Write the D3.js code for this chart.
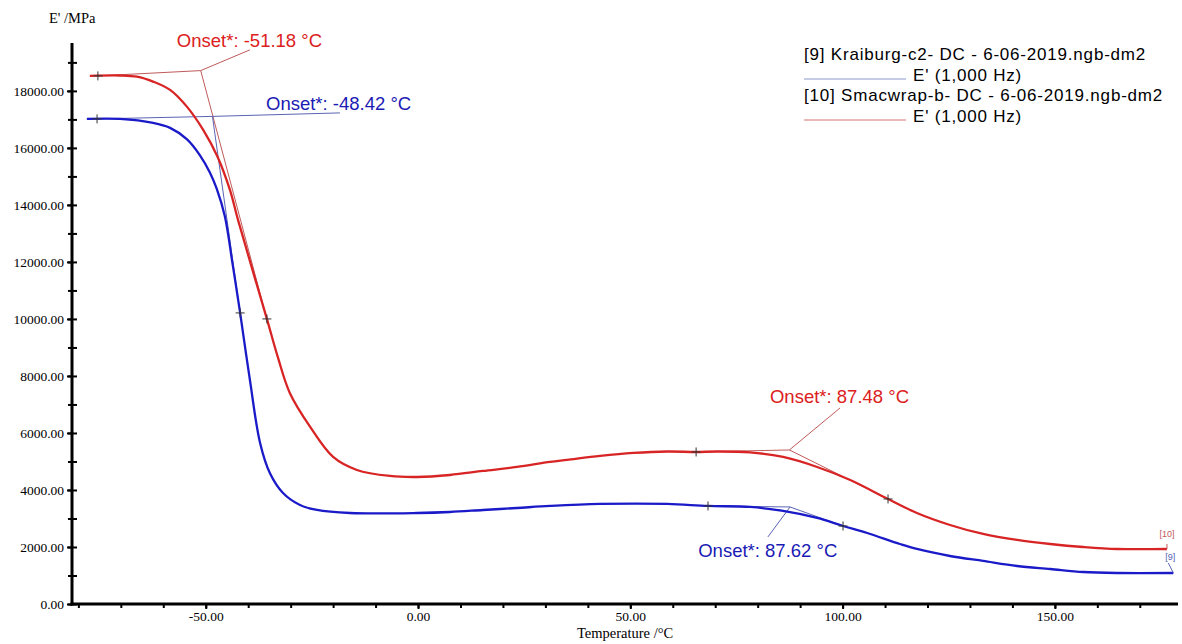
<!DOCTYPE html>
<html>
<head>
<meta charset="utf-8">
<script src="https://cdn.jsdelivr.net/npm/d3@7"></script>
<style>
  html, body { margin: 0; padding: 0; background: #fff; }
  svg { display: block; }
  .serif { font-family: "Liberation Serif", "Times New Roman", serif; }
  .sans { font-family: "Liberation Sans", Arial, sans-serif; }
</style>
</head>
<body>
<svg id="chart" width="1182" height="644"></svg>
<script>
// Storage modulus E' (MPa) vs temperature (°C), 1 Hz DMA sweeps

// [9] Kraiburg-c2 (blue)
const kraiburgT = [-78.0, -70.2, -62.4, -58.4, -54.4, -51.4, -49.0, -47.4, -45.5, -43.7, -41.9, -39.6, -37.2, -34.9, -31.8, -27.8, -23.8, -16.0, -0.2, 7.5, 15.3, 23.3, 31.1, 42.9, 58.7, 68.3, 78.2, 86.0, 94.0, 100.1, 105.8, 113.5, 117.5, 125.3, 133.1, 141.1, 148.9, 156.7, 164.7, 177.9];
const kraiburgE = [17018, 17018, 16877, 16702, 16300, 15750, 15130, 14560, 13600, 11950, 10211, 7860, 5649, 4596, 3895, 3474, 3298, 3193, 3193, 3228, 3298, 3368, 3439, 3509, 3509, 3439, 3404, 3263, 3018, 2737, 2491, 2105, 1930, 1684, 1509, 1333, 1228, 1123, 1088, 1088];

// [10] Smacwrap-b (red)
const smacwrapT = [-77.3, -70.2, -66.2, -62.4, -58.4, -54.4, -50.6, -47.2, -44.3, -42.4, -35.6, -33.0, -30.2, -25.4, -20.0, -14.4, -6.6, -0.2, 7.5, 15.3, 23.3, 31.1, 35.1, 42.9, 50.7, 58.7, 65.5, 70.4, 78.2, 86.0, 94.0, 101.8, 110.7, 117.5, 125.3, 133.1, 141.1, 148.9, 156.7, 164.7, 176.4];
const smacwrapE = [18526, 18540, 18500, 18326, 18035, 17439, 16632, 15684, 14526, 13474, 10000, 8650, 7404, 6211, 5158, 4702, 4491, 4456, 4526, 4667, 4807, 4982, 5053, 5193, 5298, 5350, 5333, 5350, 5320, 5158, 4807, 4351, 3684, 3193, 2772, 2456, 2246, 2105, 2000, 1930, 1930];

// "+" evaluation markers (baseline, inflection) per curve
const kraiburgMarksT = [-75.6, -41.9, 68.3, 100.1];
const kraiburgMarksE = [17018, 10211, 3439, 2737];
const smacwrapMarksT = [-75.4, -35.6, 65.5, 110.7];
const smacwrapMarksE = [18526, 10000, 5333, 3684];

// Onset evaluations: onset point, baseline marker index, inflection marker index, leader end, label anchor
const onsetLabels = ["Onset*: -51.18 °C", "Onset*: -48.42 °C", "Onset*: 87.48 °C", "Onset*: 87.62 °C"];
const onsetSeries = ["smacwrap", "kraiburg", "smacwrap", "kraiburg"];
const onsetT = [-51.18, -48.42, 87.48, 87.62];
const onsetE = [18712, 17105, 5404, 3404];
const onsetBaseIdx = [0, 0, 2, 2];
const onsetInflIdx = [1, 1, 3, 3];
const leaderEndT = [-39.6, -18.4, 99.4, 82.4];
const leaderEndE = [19439, 17228, 6877, 2351];
const labelT = [-56.8, -35.8, 82.9, 66.0];
const labelE = [19544, 17333, 7053, 1649];

// Axis ticks
const xMajorTicks = [-50, 0, 50, 100, 150];
const xMinorTicks = d3.range(-80, 180, 10);
const yMajorTicks = [0, 2000, 4000, 6000, 8000, 10000, 12000, 14000, 16000, 18000];
const yMinorTicks = d3.range(0, 20000, 1000);

const legendEntries = [
  { name: "[9] Kraiburg-c2- DC - 6-06-2019.ngb-dm2", sub: "E' (1,000 Hz)", key: "kraiburg" },
  { name: "[10] Smacwrap-b- DC - 6-06-2019.ngb-dm2", sub: "E' (1,000 Hz)", key: "smacwrap" }
];

const colors = {
  kraiburg: { line: "#1a1ac8", thin: "#5a64b4", text: "#1a1ab4", legend: "#8c96cc" },
  smacwrap: { line: "#d82424", thin: "#c05a5a", text: "#dc2020", legend: "#d87070" }
};

const svg = d3.select("#chart");
const x = d3.scaleLinear().domain([-81.5, 179]).range([72, 1178]);
const y = d3.scaleLinear().domain([0, 19680]).range([604, 43]);

const series = {
  kraiburg: d3.zip(kraiburgT, kraiburgE),
  smacwrap: d3.zip(smacwrapT, smacwrapE)
};
const marks = {
  kraiburg: d3.zip(kraiburgMarksT, kraiburgMarksE),
  smacwrap: d3.zip(smacwrapMarksT, smacwrapMarksE)
};

// tick labels keep a plain hyphen for negatives
const fmt2 = d => d.toFixed(2);

// ---- axes ----
const yAxisMinor = d3.axisLeft(y).tickValues(yMinorTicks).tickSize(4).tickFormat("");
const yAxisMajor = d3.axisLeft(y).tickValues(yMajorTicks).tickSize(5).tickPadding(3).tickFormat(fmt2);
const xAxisMinor = d3.axisBottom(x).tickValues(xMinorTicks).tickSize(4).tickFormat("");
const xAxisMajor = d3.axisBottom(x).tickValues(xMajorTicks).tickSize(5).tickPadding(2).tickFormat(fmt2);

function styleAxis(g) {
  g.select(".domain").remove();
  g.selectAll(".tick line").attr("stroke", "#000").attr("stroke-width", 2);
  g.selectAll(".tick text").attr("class", "serif").attr("font-size", 13.5).attr("fill", "#000");
}

svg.append("g").attr("transform", `translate(${x.range()[0]},0)`).call(yAxisMinor).call(styleAxis)
  .selectAll(".tick line").attr("x1", 5);
svg.append("g").attr("transform", `translate(${x.range()[0]},0)`).call(yAxisMajor).call(styleAxis);
svg.append("g").attr("transform", `translate(0,${y(0)})`).call(xAxisMinor).call(styleAxis);
svg.append("g").attr("transform", `translate(0,${y(0)})`).call(xAxisMajor).call(styleAxis);

// axis lines
svg.append("line").attr("x1", x.range()[0]).attr("x2", x.range()[0])
  .attr("y1", y.range()[1]).attr("y2", y(0) + 1.5)
  .attr("stroke", "#000").attr("stroke-width", 3);
svg.append("line").attr("x1", x.range()[0] - 1.5).attr("x2", x.range()[1])
  .attr("y1", y(0)).attr("y2", y(0))
  .attr("stroke", "#000").attr("stroke-width", 3);

// axis titles
svg.append("text").attr("class", "serif").attr("x", 49).attr("y", 23)
  .attr("font-size", 14.5).attr("fill", "#000").text("E' /MPa");
svg.append("text").attr("class", "serif").attr("x", 577).attr("y", 638)
  .attr("font-size", 14.5).attr("fill", "#000").text("Temperature /°C");

// ---- onset construction lines ----
const onsetG = svg.append("g");
onsetLabels.forEach((lab, i) => {
  const key = onsetSeries[i];
  const c = colors[key];
  const o = [onsetT[i], onsetE[i]];
  const b = marks[key][onsetBaseIdx[i]];
  const f = marks[key][onsetInflIdx[i]];
  const seg = (p, q) => onsetG.append("line")
    .attr("x1", x(p[0])).attr("y1", y(p[1])).attr("x2", x(q[0])).attr("y2", y(q[1]))
    .attr("stroke", c.thin).attr("stroke-width", 1);
  seg(b, o);
  seg(o, f);
  seg(o, [leaderEndT[i], leaderEndE[i]]);
});

// ---- curves ----
const line = d3.line().x(d => x(d[0])).y(d => y(d[1])).curve(d3.curveCatmullRom.alpha(0.5));
["smacwrap", "kraiburg"].forEach(key => {
  svg.append("path").datum(series[key]).attr("d", line)
    .attr("fill", "none").attr("stroke", colors[key].line)
    .attr("stroke-width", 2.3).attr("stroke-linejoin", "round");
});

// "+" markers
["smacwrap", "kraiburg"].forEach(key => {
  svg.append("g").selectAll("path").data(marks[key]).join("path")
    .attr("d", d => `M${x(d[0]) - 4.5},${y(d[1])}H${x(d[0]) + 4.5}M${x(d[0])},${y(d[1]) - 4.5}V${y(d[1]) + 4.5}`)
    .attr("stroke", "#333").attr("stroke-width", 1).attr("fill", "none");
});

// onset labels
onsetLabels.forEach((lab, i) => {
  svg.append("text").attr("class", "sans")
    .attr("x", x(labelT[i])).attr("y", y(labelE[i]))
    .attr("font-size", 18.5).attr("fill", colors[onsetSeries[i]].text).text(lab);
});

// curve end tags
const endTags = [
  { key: "smacwrap", text: "[10]", dx: 0, dy: -12, lx: 0, ly: -5 },
  { key: "kraiburg", text: "[9]", dx: -3, dy: -13, lx: -5, ly: -10 }
];
endTags.forEach(t => {
  const last = series[t.key][series[t.key].length - 1];
  const px = x(last[0]), py = y(last[1]);
  svg.append("line").attr("x1", px + t.lx).attr("y1", py + t.ly).attr("x2", px).attr("y2", py)
    .attr("stroke", colors[t.key].thin).attr("stroke-width", 1);
  svg.append("text").attr("class", "sans").attr("x", px + t.dx).attr("y", py + t.dy)
    .attr("text-anchor", "middle").attr("font-size", 9).attr("fill", colors[t.key].thin).text(t.text);
});

// ---- legend ----
const lg = svg.append("g").attr("class", "sans");
legendEntries.forEach((e, i) => {
  const top = 60 + i * 41;
  lg.append("text").attr("x", 804).attr("y", top).attr("font-size", 17)
    .attr("letter-spacing", 0.8).attr("fill", "#000").text(e.name);
  lg.append("line").attr("x1", 804).attr("x2", 906).attr("y1", top + 19).attr("y2", top + 19)
    .attr("stroke", colors[e.key].legend).attr("stroke-width", 1);
  lg.append("text").attr("x", 913).attr("y", top + 21).attr("font-size", 17)
    .attr("letter-spacing", 0.8).attr("fill", "#000").text(e.sub);
});
</script>
</body>
</html>
